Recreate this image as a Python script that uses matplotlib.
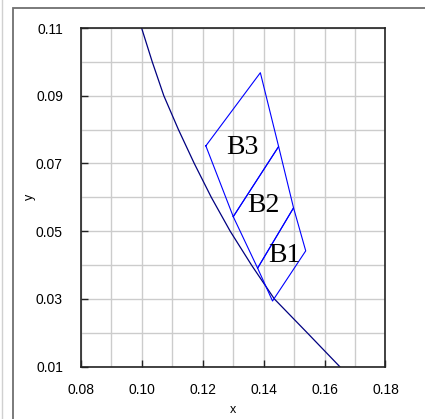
import matplotlib.pyplot as plt
from matplotlib.patches import Rectangle
from matplotlib.lines import Line2D

# boundary curve
curve_x = [0.0999, 0.1034, 0.1072, 0.1120, 0.1172, 0.1228, 0.1290, 0.1360, 0.1435, 0.1543, 0.1650]
curve_y = [0.110, 0.100, 0.090, 0.080, 0.070, 0.060, 0.050, 0.040, 0.030, 0.020, 0.010]

# quadrilaterals B1..B3 (corners in order)
b1_x = [0.1380, 0.1498, 0.1538, 0.1429]
b1_y = [0.0391, 0.0569, 0.0442, 0.0294]
b2_x = [0.1300, 0.1449, 0.1498, 0.1380]
b2_y = [0.0543, 0.0750, 0.0569, 0.0391]
b3_x = [0.1210, 0.1389, 0.1449, 0.1300]
b3_y = [0.0752, 0.0968, 0.0750, 0.0543]

labels = ["B1", "B2", "B3"]
label_x = [0.1469, 0.1400, 0.1329]
label_y = [0.0427, 0.0575, 0.0746]

xticks = [0.08, 0.10, 0.12, 0.14, 0.16, 0.18]
yticks = [0.01, 0.03, 0.05, 0.07, 0.09, 0.11]

fig = plt.figure(figsize=(4.25, 4.19), dpi=100)
ax = fig.add_axes([81 / 425, 1 - 366.7 / 419, (385.5 - 81) / 425, (366.7 - 28) / 419])

# outer frame
fig.patches.append(Rectangle((13 / 425, -0.1), 1.2, (419 - 8) / 419 + 0.1,
                             transform=fig.transFigure, fill=False,
                             edgecolor="#707070", lw=1.3))
fig.lines.append(Line2D([1.5 / 425, 1.5 / 425], [0, 1], transform=fig.transFigure,
                        color="#d0d0d0", lw=1))

ax.plot(curve_x, curve_y, color="#000080", lw=0.9)
for qx, qy in [(b1_x, b1_y), (b2_x, b2_y), (b3_x, b3_y)]:
    ax.plot(qx + qx[:1], qy + qy[:1], color="#0000ff", lw=0.8)
for t, lx, ly in zip(labels, label_x, label_y):
    ax.text(lx, ly, t, family="Liberation Serif", fontsize=20,
            ha="center", va="center")

ax.set_xlim(0.08, 0.18)
ax.set_ylim(0.01, 0.11)
ax.set_xticks(xticks)
ax.set_yticks(yticks)
ax.set_xticklabels([f"{v:.2f}" for v in xticks], family="Liberation Sans", fontsize=10)
ax.set_yticklabels([f"{v:.2f}" for v in yticks], family="Liberation Sans", fontsize=10)
ax.set_xticks([0.08 + 0.01 * i for i in range(11)], minor=True)
ax.set_yticks([0.01 + 0.01 * i for i in range(11)], minor=True)
ax.tick_params(which="major", direction="in", length=5, width=1, pad=12, color="#222222")
ax.tick_params(axis="y", which="major", pad=13)
ax.tick_params(which="minor", length=0)
ax.grid(which="both", color="#cccccc", lw=1)
ax.set_axisbelow(True)
for s in ax.spines.values():
    s.set_color("#222222")
    s.set_linewidth(1.2)

ax.set_xlabel("x", family="Liberation Sans", fontsize=9, labelpad=5)
ax.set_ylabel("y", family="Liberation Sans", fontsize=9, labelpad=0)

fig.savefig("out.png", dpi=100)
